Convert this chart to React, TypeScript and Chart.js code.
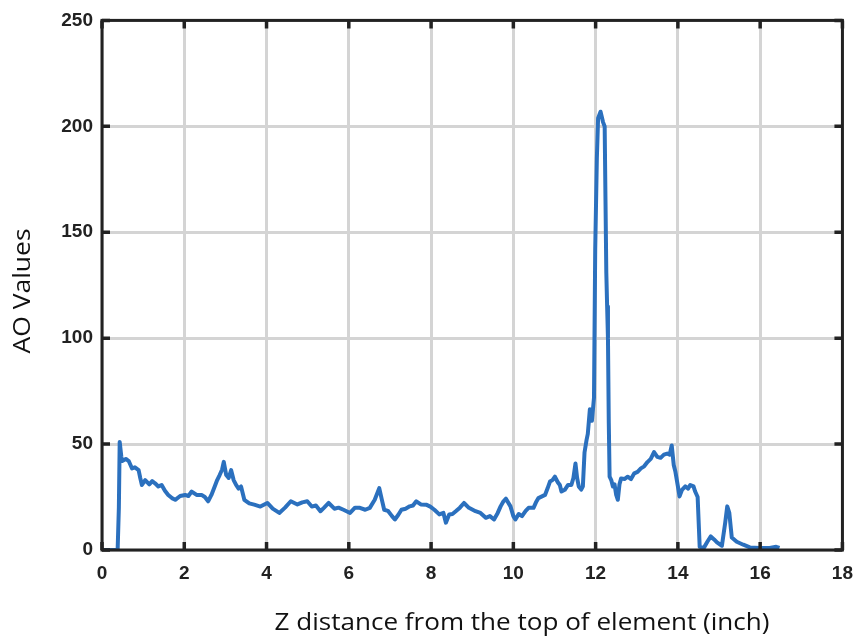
import React, { useEffect, useRef } from "react";
import { Chart, registerables } from "chart.js";

Chart.register(...registerables);

// Z distance (inch)
const zValues: number[] = [
  0, 0.38, 0.41, 0.43, 0.47, 0.49, 0.58, 0.65, 0.73, 0.8, 0.89, 0.93, 0.97, 1.05, 1.15, 1.22, 1.29, 1.37, 1.45, 1.53,
  1.61, 1.7, 1.78, 1.9, 2.02, 2.1, 2.18, 2.3, 2.42, 2.5, 2.58, 2.66, 2.74, 2.8, 2.86, 2.92, 2.96, 3.02, 3.08, 3.14,
  3.2, 3.26, 3.32, 3.38, 3.46, 3.58, 3.7, 3.85, 4.02, 4.15, 4.31, 4.45, 4.59, 4.75, 4.87, 4.99, 5.1, 5.2, 5.31, 5.4,
  5.51, 5.65, 5.75, 5.87, 6.03, 6.15, 6.27, 6.4, 6.51, 6.63, 6.74, 6.8, 6.86, 6.95, 7.05, 7.12, 7.2, 7.28, 7.38, 7.48,
  7.56, 7.64, 7.75, 7.88, 7.98, 8.08, 8.2, 8.3, 8.36, 8.44, 8.52, 8.6, 8.7, 8.8, 8.92, 9.08, 9.2, 9.33, 9.43, 9.53,
  9.62, 9.69, 9.76, 9.82, 9.93, 10.0, 10.05, 10.13, 10.21, 10.3, 10.37, 10.49, 10.55, 10.61, 10.77, 10.83, 10.89, 10.95, 11.01, 11.08,
  11.13, 11.17, 11.25, 11.33, 11.41, 11.46, 11.51, 11.55, 11.59, 11.65, 11.69, 11.73, 11.78, 11.81, 11.86, 11.91, 11.96, 11.99, 12.03, 12.06,
  12.12, 12.18, 12.22, 12.24, 12.26, 12.28, 12.3, 12.32, 12.34, 12.38, 12.42, 12.46, 12.5, 12.54, 12.58, 12.62, 12.7, 12.78, 12.86, 12.94,
  13.02, 13.1, 13.18, 13.26, 13.34, 13.42, 13.5, 13.58, 13.66, 13.74, 13.8, 13.85, 13.9, 13.94, 14.0, 14.04, 14.1, 14.18, 14.25, 14.3,
  14.38, 14.42, 14.48, 14.53, 14.63, 14.72, 14.8, 14.88, 14.95, 15.07, 15.15, 15.2, 15.25, 15.31, 15.43, 15.59, 15.75, 15.99, 16.23, 16.39,
  16.47,
];

// AO values
const aoValues: number[] = [
  0, 0, 20, 51, 44, 42, 43, 42, 38.5, 39, 37.7, 34, 30.7, 33, 31, 32.5, 31.5, 30, 30.7, 28,
  26, 24.5, 23.7, 25.5, 26, 25.5, 27.6, 26, 26, 25, 23, 26, 30, 33, 35.4, 38, 41.6, 35.4, 34, 37.7,
  33, 30.7, 29, 30, 23.7, 22, 21.4, 20.5, 22.2, 19.5, 17.5, 20, 23, 21.5, 22.5, 23, 20.5, 21, 18.3, 20,
  22.2, 19.5, 20, 19, 17.5, 20, 19.9, 19, 19.9, 23.7, 29.2, 24, 19, 18.5, 16, 14.4, 16.5, 19, 19.5, 20.6,
  21, 23, 21.5, 21.4, 20.5, 19, 16.8, 17.5, 12.9, 16.8, 17, 18.3, 20, 22.2, 19.9, 18.3, 17.5, 15.2, 16, 14.4,
  17.5, 20.6, 23, 24.2, 20.6, 16, 14.4, 17, 16, 18.5, 19.9, 19.9, 22.5, 24.5, 26, 29, 32.3, 33, 34.6, 32,
  30.7, 27.6, 28.4, 30.7, 30.7, 34, 40.8, 34, 30, 28.5, 30, 46, 52, 54.8, 66.4, 61, 71.8, 141.7, 185, 203.8,
  206.9, 202, 199.9, 165, 130.8, 115, 100, 60, 34.6, 33, 30, 31, 26, 23.7, 31, 33.8, 33.5, 34.6, 33.5, 36.2,
  36.9, 38.5, 39.5, 41.5, 43, 46.2, 44, 43.5, 45, 45.5, 45, 49.3, 40, 36.9, 30, 25.3, 28.4, 30, 29, 30.7,
  30, 27.6, 25, 1.5, 1, 4, 6.4, 5, 3.6, 2, 12.9, 20.6, 17.5, 5.9, 3.9, 2.5, 1.2, 1, 1, 1.5,
  1,
];

const xTitle = "Z distance from the top of element (inch)";
const yTitle = "AO Values";
const xMin = 0, xMax = 18, xStep = 2;
const yMin = 0, yMax = 250, yStep = 50;

const W = 865;
const H = 643;

function drawFitted(ctx: CanvasRenderingContext2D, text: string, targetWidth: number) {
  const w = ctx.measureText(text).width;
  const sx = targetWidth / w;
  ctx.save();
  ctx.scale(sx, 1);
  ctx.fillText(text, 0, 0);
  ctx.restore();
}

const framePlugin = {
  id: "frameAndTitles",
  afterDatasetsDraw(chart: any) {
    const { ctx, chartArea } = chart;
    const { left, right, top, bottom } = chartArea;
    ctx.save();
    ctx.strokeStyle = "#222222";
    ctx.lineWidth = 3;
    ctx.strokeRect(left, top, right - left, bottom - top);
    ctx.lineWidth = 3.5;
    const tl = 8;
    const xs = chart.scales.x;
    const ys = chart.scales.y;
    xs.ticks.forEach((t: any) => {
      const px = xs.getPixelForValue(t.value);
      ctx.beginPath();
      ctx.moveTo(px, bottom);
      ctx.lineTo(px, bottom - tl);
      ctx.moveTo(px, top);
      ctx.lineTo(px, top + tl);
      ctx.stroke();
    });
    ys.ticks.forEach((t: any) => {
      const py = ys.getPixelForValue(t.value);
      ctx.beginPath();
      ctx.moveTo(left, py);
      ctx.lineTo(left + tl, py);
      ctx.moveTo(right, py);
      ctx.lineTo(right - tl, py);
      ctx.stroke();
    });
    ctx.restore();
  },
  afterDraw(chart: any) {
    const { ctx } = chart;
    ctx.save();
    ctx.fillStyle = "#111111";
    ctx.font = '24px "Open Sans"';
    ctx.textAlign = "center";
    ctx.textBaseline = "middle";
    ctx.save();
    ctx.translate(522, 623);
    drawFitted(ctx, xTitle, 495);
    ctx.restore();
    ctx.save();
    ctx.translate(23, 291);
    ctx.rotate(-Math.PI / 2);
    drawFitted(ctx, yTitle, 125);
    ctx.restore();
    ctx.restore();
  },
};

export default function App() {
  const ref = useRef<HTMLCanvasElement>(null);
  useEffect(() => {
    if (!ref.current) return;
    const points = zValues.map((x, i) => ({ x, y: aoValues[i] }));
    const tickFont = { family: '"Liberation Sans", Arial, sans-serif', size: 19, weight: "bold" as const };
    const chart = new Chart(ref.current, {
      type: "scatter",
      data: {
        datasets: [
          {
            data: points,
            showLine: true,
            borderColor: "#2b70be",
            backgroundColor: "#2b70be",
            borderWidth: 4,
            pointRadius: 0,
            tension: 0,
            fill: false,
            borderJoinStyle: "round",
          },
        ],
      },
      options: {
        responsive: false,
        animation: false,
        devicePixelRatio: 1,
        layout: { padding: { top: 14, right: 14, left: 0, bottom: 0 } },
        plugins: { legend: { display: false }, tooltip: { enabled: false } },
        scales: {
          x: {
            type: "linear",
            min: xMin,
            max: xMax,
            ticks: { stepSize: xStep, font: tickFont, color: "#222222", padding: 12, maxRotation: 0 },
            grid: { color: "#d4d4d4", lineWidth: 3, drawTicks: false },
            border: { display: false },
            afterFit: (s: any) => {
              s.height = H - 550;
            },
          },
          y: {
            type: "linear",
            min: yMin,
            max: yMax,
            ticks: { stepSize: yStep, font: tickFont, color: "#222222", padding: 9 },
            grid: { color: "#d4d4d4", lineWidth: 3, drawTicks: false },
            border: { display: false },
            afterFit: (s: any) => {
              s.width = 102;
            },
          },
        },
      },
      plugins: [framePlugin],
    });
    return () => chart.destroy();
  }, []);
  return (
    <div style={{ position: "fixed", left: 0, top: 0, width: W, height: H, background: "#fff" }}>
      <canvas ref={ref} width={W} height={H} style={{ width: W, height: H, display: "block" }} />
    </div>
  );
}
